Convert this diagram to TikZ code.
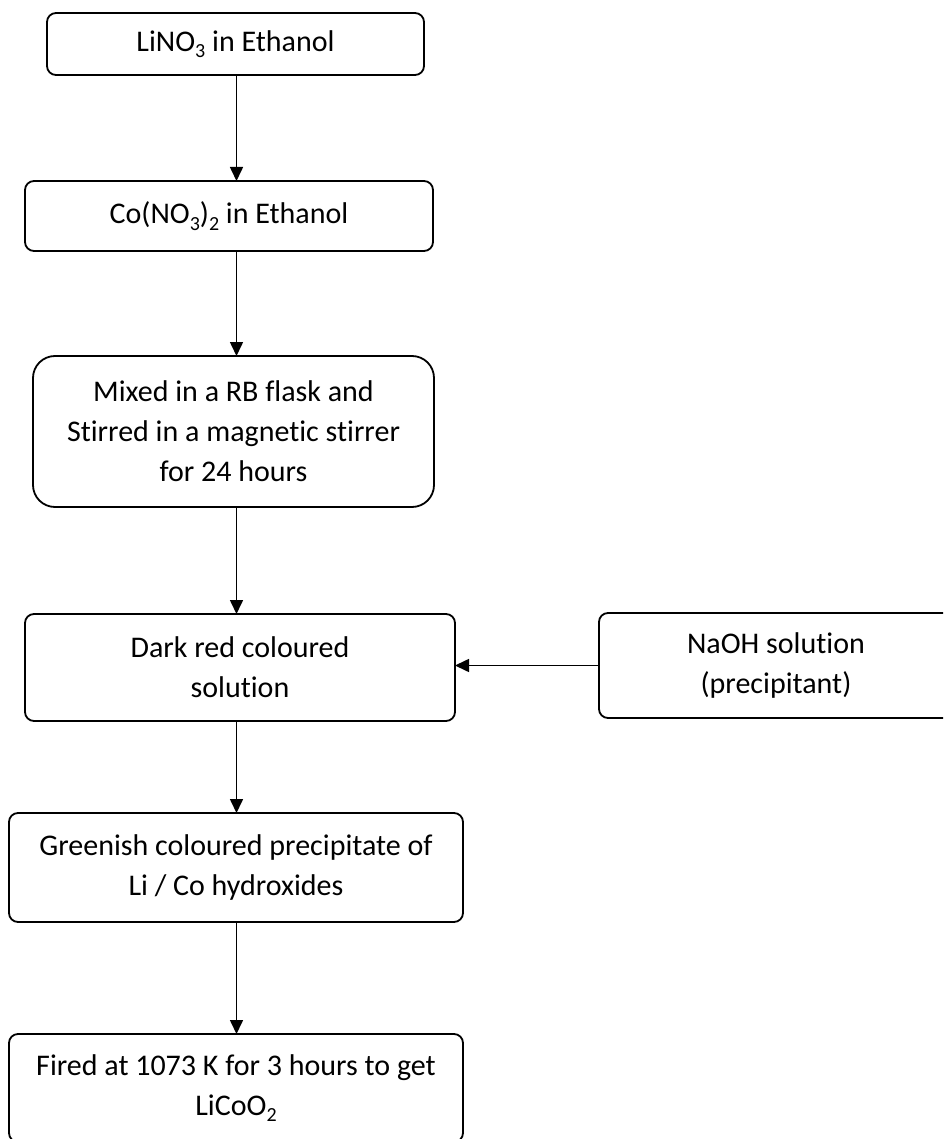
\documentclass[tikz,border=0pt]{standalone}
\usepackage{fontspec}
\setmainfont{Carlito}[Ligatures=NoCommon]
\usetikzlibrary{arrows.meta}
\newcommand\lowsub[1]{\raisebox{-0.22em}{\fontsize{20}{20}\selectfont #1}}
\tikzset{
  box/.style={draw, line width=1.8pt, inner sep=0pt, outer sep=0pt, align=center,
    font=\fontsize{30}{40}\selectfont, rounded corners=9pt},
  arr/.style={line width=1.6pt, -{Triangle[length=14pt,width=13pt]}},
}
\begin{document}
\begin{tikzpicture}[x=1pt,y=-1pt]
\clip (0,0) rectangle (943,1139);
\fill[white] (0,0) rectangle (943,1139);
\node[box, minimum width=377pt, minimum height=62pt] (b1) at (235.5,44) {LiNO\lowsub{3} in Ethanol};
\node[box, minimum width=408pt, minimum height=70pt] (b2) at (229,216) {Co(NO\lowsub{3})\lowsub{2} in Ethanol};
\node[box, minimum width=401pt, minimum height=151pt, rounded corners=22pt] (b3) at (233.5,431.5) {Mixed in a RB flask and\\Stirred in a magnetic stirrer\\for 24 hours};
\node[box, minimum width=430pt, minimum height=107pt] (b4) at (240,667.5) {Dark red coloured\\solution};
\node[box, minimum width=354pt, minimum height=105pt] (b5) at (776,665.5) {NaOH solution\\(precipitant)};
\node[box, minimum width=454pt, minimum height=109pt] (b6) at (236,867.5) {Greenish coloured precipitate of\\Li / Co hydroxides};
\node[box, minimum width=454pt, minimum height=108pt] (b7) at (236,1088) {Fired at 1073 K for 3 hours to get\\LiCoO\lowsub{2}};
\coordinate (col) at (236.5,0);
\draw[arr] (b1.south -| col) -- (b2.north -| col);
\draw[arr] (b2.south -| col) -- (b3.north -| col);
\draw[arr] (b3.south -| col) -- (b4.north -| col);
\draw[arr] (b4.south -| col) -- (b6.north -| col);
\draw[arr] (b6.south -| col) -- (b7.north -| col);
\draw[arr] (b5.west) -- (b4.east |- b5.west);
\end{tikzpicture}
\end{document}
